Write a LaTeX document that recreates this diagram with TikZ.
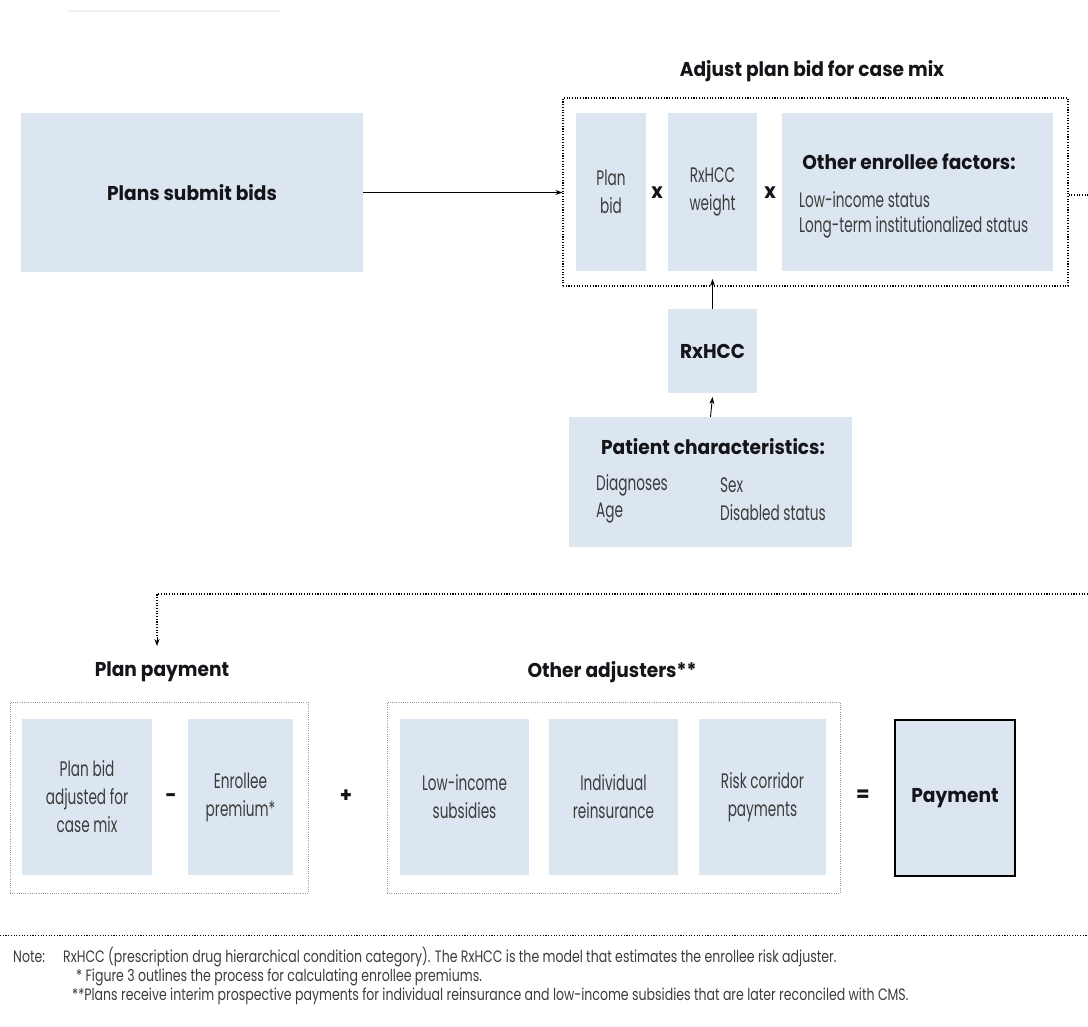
\documentclass[tikz,border=0pt]{standalone}
\usepackage{fontspec}
\usetikzlibrary{arrows.meta}
\newfontfamily\futl{Poppins}[FakeStretch=0.65]
\newfontfamily\futb{Poppins}[FakeStretch=0.93]
\newfontfamily\futn{Poppins}[FakeStretch=0.76]
\definecolor{boxblue}{RGB}{220,230,241}
\definecolor{lighttext}{RGB}{60,60,60}
\definecolor{darktext}{RGB}{20,20,25}
\tikzset{
  bluebox/.style={fill=boxblue, draw=none, inner sep=0pt, align=center},
  lt/.style={font=\futl\fontsize{21}{28}\selectfont, text=lighttext},
  bt/.style={font=\futb\bfseries\fontsize{20}{24}\selectfont, text=darktext},
  optext/.style={font=\futb\bfseries\fontsize{21}{24}\selectfont, text=darktext, inner sep=0pt},
  blackdots/.style={draw=black, line width=1.1pt, dash pattern=on 1.1pt off 1.6pt},
  graydots/.style={draw=gray!80, line width=0.8pt, dash pattern=on 0.8pt off 1.4pt},
  arr/.style={-{Stealth[length=7pt,width=5pt]}, line width=0.9pt},
  notetext/.style={font=\futn\fontsize{16.5}{19}\selectfont, text=lighttext, inner sep=0pt, anchor=base west}
}
\begin{document}
\begin{tikzpicture}[x=1pt,y=-1pt]
\useasboundingbox (0,0) rectangle (1088,1027);
% faint top line
\draw[gray!10, line width=2pt] (68,11) -- (281,11);

% top row
\node[bluebox, minimum width=342, minimum height=159, bt] (plans) at (192,192.5) {Plans submit bids};

\node[bt, inner sep=0pt] (adjtitle) at (812,71) {Adjust plan bid for case mix};
\node[blackdots, minimum width=505, minimum height=188, inner sep=0pt] (adj) at (815.5,192) {};
\node[bluebox, minimum width=70, minimum height=158, lt] (planbid) at (611,192) {Plan\\bid};
\node[optext] (x1) at (657,193) {x};
\node[bluebox, minimum width=89, minimum height=158, lt] (weight) at (712.5,192) {RxHCC\\weight};
\node[optext] (x2) at (770,193) {x};
\node[bluebox, minimum width=271, minimum height=158] (factors) at (917.5,192) {};
\node[bt, inner sep=0pt] (factitle) at (909,162) {Other enrollee factors:};
\node[lt, inner sep=0pt, anchor=west] (fac1) at (799,200) {Low-income status};
\node[lt, inner sep=0pt, anchor=west] (fac2) at (799,227) {Long-term institutionalized status};

\node[bluebox, minimum width=89, minimum height=84, bt] (rxhcc) at (712.5,351) {RxHCC};
\node[bluebox, minimum width=283, minimum height=130] (patient) at (710.5,482) {};
\node[bt, inner sep=0pt] (pattitle) at (713,447) {Patient characteristics:};
\node[lt, inner sep=0pt, anchor=west] (diag) at (596,485) {Diagnoses};
\node[lt, inner sep=0pt, anchor=west] (age) at (596,513) {Age};
\node[lt, inner sep=0pt, anchor=west] (sex) at (720,485) {Sex};
\node[lt, inner sep=0pt, anchor=west] (dis) at (720,513) {Disabled status};

\coordinate (adjin) at (adj.west |- plans.east);
\draw[arr] (plans.east) -- (adjin);
\coordinate (wtip) at (712.5,279);
\draw[arr] (rxhcc.north) -- (wtip);
\coordinate (rtip) at (712.5,397);
\draw[arr] (patient.north) -- (rtip);

% dotted connector to lower row
\coordinate (rightout) at (1088,195);
\draw[blackdots] (adj.east |- rightout) -- (rightout);
\coordinate (loopr) at (1088,594);
\coordinate (loopc) at (157,594);
\coordinate (looptip) at (157,646);
\draw[blackdots] (loopr) -- (loopc) -- (157,636);
\draw[-{Stealth[length=7pt,width=5pt]}, line width=0.9pt] (157,637) -- (looptip);

% lower row
\node[bt, inner sep=0pt] (pptitle) at (162,672) {Plan payment};
\node[bt, inner sep=0pt] (othtitle) at (612,672) {Other adjusters**};
\node[graydots, minimum width=298, minimum height=191, inner sep=0pt] (pp) at (159,797.5) {};
\node[graydots, minimum width=453, minimum height=191, inner sep=0pt] (oth) at (613.5,797.5) {};

\node[bluebox, minimum width=130, minimum height=156, lt] (adjmix) at (87,797) {Plan bid\\adjusted for\\case mix};
\node[optext] (minus) at (171,798) {-};
\node[bluebox, minimum width=105, minimum height=156, lt] (prem) at (240.5,797) {Enrollee\\premium*};
\node[optext] (plus) at (346,796) {+};
\node[bluebox, minimum width=129, minimum height=156, lt] (lowinc) at (464.5,797) {Low-income\\subsidies};
\node[bluebox, minimum width=129, minimum height=156, lt] (indiv) at (613.5,797) {Individual\\reinsurance};
\node[bluebox, minimum width=127, minimum height=156, lt] (risk) at (762.5,797) {Risk corridor\\payments};
\node[optext] (eq) at (863,796) {=};
\node[fill=boxblue, draw=black, line width=2.5pt, minimum width=120, minimum height=156, inner sep=0pt, bt] (pay) at (955,798) {Payment};

% notes
\coordinate (nl) at (0,935);
\coordinate (nr) at (1088,935);
\draw[blackdots, line width=1pt] (nl) -- (nr);
\node[notetext] (note) at (13,962) {Note:};
\node[notetext] (n1) at (63,962) {RxHCC (prescription drug hierarchical condition category). The RxHCC is the model that estimates the enrollee risk adjuster.};
\node[notetext] (n2) at (76,981) {* Figure 3 outlines the process for calculating enrollee premiums.};
\node[notetext] (n3) at (72,1000) {**Plans receive interim prospective payments for individual reinsurance and low-income subsidies that are later reconciled with CMS.};
\end{tikzpicture}
\end{document}
